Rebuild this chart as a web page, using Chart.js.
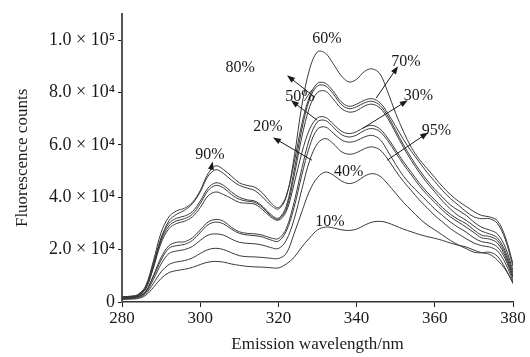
<!DOCTYPE html>
<html>
<head>
<meta charset="utf-8">
<script src="https://cdn.jsdelivr.net/npm/chart.js@4.4.1/dist/chart.umd.min.js"></script>
<style>
  html, body { margin: 0; padding: 0; background: #fff; }
  #wrap { width: 530px; height: 357px; }
</style>
</head>
<body>
<div id="wrap"><canvas id="myChart" width="530" height="357"></canvas></div>
<script>
// wavelengths (nm), every 2 nm
const wavelengths = [280,282,284,286,288,290,292,294,296,298,300,302,304,306,308,310,312,314,316,318,320,
  322,324,326,328,330,332,334,336,338,340,342,344,346,348,350,352,354,356,358,360,362,364,366,368,370,372,374,376,378,380];

// fluorescence counts
const c10 = [1000,1100,1300,2500,5500,9000,11200,12000,12500,13200,14300,15200,15500,15200,14500,14000,13600,13400,13300,13100,13000,
  14500,17000,21000,24500,27500,28600,28300,27600,27300,27800,29300,30500,30800,30200,29000,27800,26800,25800,25000,24300,23500,22500,21700,21000,19800,18800,18200,16000,12500,7500];
const c20 = [1400,1500,1900,3500,8500,14500,18500,19500,20000,21200,23500,25500,26000,25500,24000,22800,22400,22200,21700,20800,20400,
  23500,31500,43000,54000,60500,62400,60500,57500,56400,57000,58500,59200,58000,54500,50000,46000,42500,39000,36000,33000,30500,28000,26000,24200,22500,21500,21000,19500,15000,8000];
const c30 = [1600,1800,2300,4800,13000,22500,28000,30000,30800,32500,36000,40500,42000,41000,39500,38000,37700,37300,35200,32500,31200,
  34500,45000,57000,66000,70300,70500,68000,65300,64300,65000,66700,67400,66000,62500,58000,53500,49500,45500,42000,39000,36000,33500,31500,29900,27500,25500,25000,23500,18500,10000];
const c40 = [1200,1300,1600,3000,7000,11500,14300,15300,15800,16800,18500,20000,20500,20000,18800,17700,17300,17200,17000,16700,16600,
  18500,26000,34500,42500,47500,49600,48500,46300,45200,46000,48000,49000,48000,45000,41500,38000,35000,32000,29500,27500,25500,23500,21800,20400,19000,18800,19000,17500,13000,7000];
const c50 = [1500,1700,2100,4000,10000,17000,21500,22800,23000,24500,27500,30500,31500,30800,28500,26800,26200,26000,25500,24500,24200,
  28000,38000,51000,62500,68800,69300,66800,64000,63000,63700,65500,66200,65000,61500,57000,52500,48500,44500,41000,38000,35000,32500,30500,28600,26500,24500,24000,22500,17500,9500];
const c60 = [2000,2100,2500,5000,13000,24000,31000,33500,35000,37500,42000,48000,50500,49000,46500,44500,43500,42500,40000,37000,35500,
  40000,55000,75000,89000,95500,95000,91000,86500,84000,85000,88000,89000,87000,80000,72000,65000,59000,54500,51000,47500,44000,41000,38500,36500,34500,33000,32500,31000,25000,14500];
const c70 = [1800,2000,2600,5500,14500,24500,30000,32000,32800,34500,38500,43500,45500,44500,42000,40000,39000,38500,36500,33500,32000,
  36500,50000,66000,77500,82500,82500,79500,75500,73800,74500,76000,76600,75000,71000,65500,60000,55000,50500,46500,43000,40000,37000,35000,33100,30500,28500,27500,26000,21000,12000];
const c80 = [1800,2000,2500,5200,14000,23500,29000,31000,31800,33500,37500,42500,44500,43500,41000,39200,38500,38000,36000,33000,31600,
  35500,48000,63000,74500,80000,80500,77500,74000,72500,73000,74800,75500,74000,70000,64500,59000,54000,49500,45500,42000,38500,35500,33000,31200,29000,27000,26000,24500,19500,11000];
const c90 = [2000,2200,2800,6000,15500,26500,32500,34800,35800,38000,42500,49000,52000,50500,48000,45500,44500,43800,41500,38000,36000,
  40500,53000,68000,78500,83500,83500,80500,76500,74700,75500,77000,77600,76000,72000,67000,62000,57500,53500,49500,46000,42500,39500,37000,34500,32500,31800,31800,30000,24000,13500];
const c95 = [1500,1600,2000,3800,9500,16000,20500,21500,22000,23500,26500,29500,30500,29800,27800,26200,25600,25300,24800,23700,23200,
  27000,36000,48500,59500,66000,66800,64500,62000,61000,61600,63000,63600,62000,57500,52500,48000,44500,41500,38500,35500,33000,30500,28500,26700,24500,23000,22500,21000,16500,9000];

const seriesNames = ['10%','20%','30%','40%','50%','60%','70%','80%','90%','95%'];
const seriesValues = [c10,c20,c30,c40,c50,c60,c70,c80,c90,c95];

const xTicks = [280,300,320,340,360,380];
const yTicks = [0,20000,40000,60000,80000,100000];
const yTickLabels = ['0','2.0 × 10⁴','4.0 × 10⁴','6.0 × 10⁴','8.0 × 10⁴','1.0 × 10⁵'];

// curve labels: text position, optional arrow (from curve to label), all in data units
const labelText  = ['60%','70%','30%','95%','80%','50%','20%','90%','40%','10%'];
const labelPos   = [[332.4,100300],[352.6,91800],[355.8,78800],[360.4,65300],[310.2,89500],[325.5,78400],[317.3,67000],[302.5,56200],[338.0,49600],[333.2,30600]];
const arrowFrom  = [null,[345.0,77800],[341.6,66300],[347.8,54100],[329.4,78100],[329.9,69400],[328.6,54100],[302.7,50300],null,null];
const arrowTo    = [null,[350.6,90000],[353.1,77000],[358.3,64700],[322.2,86500],[323.2,77000],[318.6,62800],[303.2,53600],null,null];

const serif = "'Liberation Serif', 'DejaVu Serif', serif";
const ink = '#1a1a1a';

const labelPlugin = {
  id: 'curveLabels',
  afterDatasetsDraw(chart) {
    const ctx = chart.ctx;
    const xs = chart.scales.x, ys = chart.scales.y;
    ctx.save();
    ctx.fillStyle = ink;
    ctx.strokeStyle = ink;
    ctx.lineWidth = 1;
    ctx.font = "16px " + serif;
    ctx.textAlign = 'center';
    ctx.textBaseline = 'middle';
    labelText.forEach((t, i) => {
      const px = xs.getPixelForValue(labelPos[i][0]);
      const py = ys.getPixelForValue(labelPos[i][1]);
      ctx.fillText(t, px, py);
      if (arrowFrom[i]) {
        const x1 = xs.getPixelForValue(arrowFrom[i][0]), y1 = ys.getPixelForValue(arrowFrom[i][1]);
        const x2 = xs.getPixelForValue(arrowTo[i][0]), y2 = ys.getPixelForValue(arrowTo[i][1]);
        const a = Math.atan2(y2 - y1, x2 - x1);
        const hl = 8, hw = 3;
        ctx.beginPath();
        ctx.moveTo(x1, y1);
        ctx.lineTo(x2 - Math.cos(a) * hl * 0.8, y2 - Math.sin(a) * hl * 0.8);
        ctx.stroke();
        ctx.beginPath();
        ctx.moveTo(x2, y2);
        ctx.lineTo(x2 - hl * Math.cos(a) + hw * Math.sin(a), y2 - hl * Math.sin(a) - hw * Math.cos(a));
        ctx.lineTo(x2 - hl * Math.cos(a) - hw * Math.sin(a), y2 - hl * Math.sin(a) + hw * Math.cos(a));
        ctx.closePath();
        ctx.fill();
      }
    });
    ctx.restore();
  }
};

const datasets = seriesNames.map((name, i) => ({
  label: name,
  data: wavelengths.map((w, j) => ({ x: w, y: seriesValues[i][j] })),
  borderColor: '#3a3a3a',
  borderWidth: 1,
  pointRadius: 0,
  tension: 0.35,
  fill: false
}));

new Chart(document.getElementById('myChart'), {
  type: 'line',
  data: { datasets: datasets },
  options: {
    responsive: false,
    animation: false,
    layout: { padding: { top: 13, right: 17, left: 0, bottom: 0 } },
    plugins: { legend: { display: false }, tooltip: { enabled: false } },
    scales: {
      x: {
        type: 'linear',
        min: 280, max: 380,
        afterBuildTicks: ax => { ax.ticks = xTicks.map(v => ({ value: v })); },
        afterFit: s => { s.height = 55; },
        ticks: { color: ink, font: { family: serif, size: 17 }, padding: 1, maxRotation: 0 },
        grid: { drawOnChartArea: false, drawTicks: true, tickLength: 5, color: ink },
        border: { color: '#333', width: 1.5 },
        title: { display: true, text: 'Emission wavelength/nm', color: ink, font: { family: serif, size: 17 }, padding: { top: 2, bottom: 2 } }
      },
      y: {
        min: 0, max: 110000,
        afterBuildTicks: ax => { ax.ticks = yTicks.map(v => ({ value: v })); },
        afterFit: s => { s.width = 122; },
        ticks: {
          color: ink, font: { family: serif, size: 18 }, padding: 3,
          callback: v => yTickLabels[yTicks.indexOf(v)]
        },
        grid: { drawOnChartArea: false, drawTicks: true, tickLength: 4, color: ink },
        border: { color: '#555', width: 2 },
        title: { display: true, text: 'Fluorescence counts', color: ink, font: { family: serif, size: 17 }, padding: { top: 12, bottom: 0 } }
      }
    }
  },
  plugins: [labelPlugin]
});
</script>
</body>
</html>
